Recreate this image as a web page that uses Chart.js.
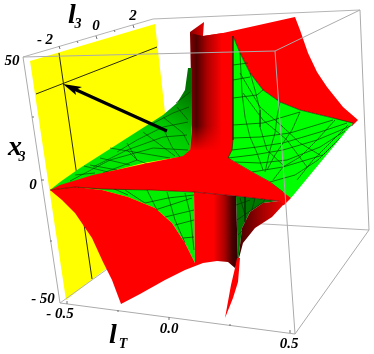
<!DOCTYPE html>
<html><head><meta charset="utf-8">
<style>html,body{margin:0;padding:0;background:#fff}canvas{display:block}</style>
<script src="https://cdn.jsdelivr.net/npm/chart.js@4"></script>
</head><body><canvas id="c" width="374" height="354"></canvas>
<script>
// Outlines (projected plane, picture units)
const backFrame = [[23,57],[153,19],[360,10],null,[60,303],[177,219],[369,230]];
const frontFrame = [[23,57],[275,51],[360,10],[369,230],[295,334],[275,51],null,[23,57],[60,303],[295,334]];
const axisTicks = [[59,46],[60,49],null,[96,36],[97,39],null,[133,25],[134,28],null,[77,41],[78,43],null,[114,30],[115,32],null,
  [41,180],[44,180],null,[32,117],[34,117],null,[50,241],[52,241],null,
  [67,304],[67,301],null,[169,320],[169,317],null,[290,333],[290,330],null,[118,312],[118,310],null,[230,326],[230,324]];
const yellowPlane = [[30,61],[155,24],[165,113],[180,200],[107,268],[66,300]];
const planeLines = [[59,53],[92,279],null,[36,94],[157,47]];
const arrowShaft = [[167,131],[72,88]];
const arrowHead = [[63,84],[82,87],[75,90],[76,95]];
const upperWing = [[233,36],[203,36],[223,33],[250,27],[295,17],[300,30],[308,53],[317,72],[327,87],[343,107],[358,120],[353,125],[333,118],[300,110],[280,102],[263,90],[250,73],[240,53]];
const stemLip = [[190,32],[204,22],[203,36],[190,36]];
const upperStem = [[190,33],[203,36],[223,33],[233,33],[233,160],[190,160],[192,125]];
const stemFade = [[188,126],[234,126],[234,154],[188,154]];
const leftGreen = [[50,190],[60,182],[80,168],[127,138],[163,115],[177,103],[185,90],[188,68],[192,68],[192,125],[190,152],[183,157],[173,158],[143,163],[93,176],[60,186]];
const rightGreen = [[233,36],[240,53],[250,73],[263,90],[280,102],[300,110],[333,118],[353,123],[291,198],[283,195],[270,182],[252,172],[228,158],[232,150],[233,140]];
const lowGreen = [[75,187],[194,192],[195,263],[185,243],[172,223],[155,208],[128,197],[102,190]];
const darkGreen = [[236,196],[279,201],[263,203],[250,212],[242,228],[238,262]];
const centerArm = [[50,190],[60,185],[93,175],[143,164],[173,158],[183,156],[190,150],[228,150],[228,158],[252,172],[270,182],[283,192],[291,198],[284,205],[279,201],[236,196],[194,192],[150,190],[102,189],[75,187]];
const lowerWing = [[50,190],[62,200],[75,213],[92,238],[103,262],[112,280],[121,304],[140,294],[165,280],[185,270],[203,263],[195,263],[185,243],[172,223],[155,208],[128,197],[102,190],[75,187]];
const lowerStem = [[194,192],[236,196],[238,262],[235,268],[228,262],[217,261],[203,263],[195,263]];
const rightCrescent = [[279,201],[284,204],[272,217],[255,228],[243,243],[238,262],[242,228],[250,212],[263,203]];
const spike = [[237,258],[235,268],[231,285],[225,318],[233,298],[238,282],[240,258]];
const leftMesh = [[70,181],[110,160],[153,148],[188,150],null,[93,167],[127,150],[163,137],[187,135],null,[117,152],[137,140],[163,127],[188,122],null,[150,125],[173,113],[189,107],null,[176,103],[190,92],null,
  [103,173],[137,160],null,[127,143],[137,160],null,[127,150],[137,160],[150,165],null,[143,132],[175,156],null,[163,128],[172,147],[180,157],null,[163,117],[183,133],[189,145],null,[177,107],[188,120],null,[84,166],[120,175],null,[110,148],[170,158],null,[75,175],[95,173],null,[90,165],[117,170],null,[100,158],[130,165]];
const rightMesh = [[233,65],[248,63],null,[233,80],[250,77],null,[233,98],[257,95],[263,90],null,[233,125],[263,123],[300,112],null,[233,138],[260,137],[290,133],[333,120],null,[232,150],[257,147],[283,143],[320,132],[347,123],null,[228,158],[253,155],[283,150],[317,140],[353,125],null,[235,162],[260,163],[287,160],[320,147],[345,131],null,[252,172],[283,167],[323,155],[340,138],null,[270,182],[295,175],[318,160],[334,144],null,
  [240,53],[241,73],[242,93],[245,117],[250,137],[257,153],[263,170],null,[250,73],[255,90],[260,110],[260,127],[267,150],[283,165],null,[240,73],[260,107],[283,127],[300,143],[320,155],null,[243,93],[263,120],[287,140],[307,167],null,[280,102],[277,117],[275,133],[270,150],[265,172],null,[300,112],[292,130],[283,143],[275,155],[267,170],null,[335,120],[317,140],[300,157],[283,167],[273,180],null,[348,125],[330,143],[313,160],[297,180]];
const lowMesh = [[112,188],[128,195],null,[125,190],[145,203],null,[147,190],[158,212],null,[167,192],[175,220],[185,243],null,[185,193],[190,213],[194,250],null,[145,203],[168,198],[194,195],null,[155,210],[192,198],null,[165,217],[194,210],null,[175,225],[194,220],null,[183,238],[194,237]];
const darkMesh = [[236,205],[250,200],null,[237,220],[262,203],null,[238,235],[272,202],null,[245,197],[245,222],null,[255,198],[252,210],null,[265,199],[262,204],null,[240,198],[246,218]];
const rightEdge = [[233,36],[240,53],[250,73],[263,90],[280,102],[300,110],[333,118],[353,123],null,[233,36],[233,140],[232,150],[228,158],[252,172],[270,182],[283,192]];
const armEdge = [[50,190],[75,187],[102,189],[150,190],[194,192],[236,196],[279,201],[284,205]];
const tickLabels = ["- 2","0","2","50","0","- 50","- 0.5","0.0","0.5"];
const tickLabelX = [45,96,133,12,33,43,60,169,289];
const tickLabelY = [40,26,16,61,185,299,314,329,344];
const axisNames = ["l","3","x","3","l","T"];
const axisNameX = [72,78,15,22,113,123];
const axisNameY = [16,24,148,157,336,344];

const RED='#ff0000';
function grad(x0,y0,x1,y1,stops){
  return function(c){
    const ch=c.chart, sx=ch.scales.x, sy=ch.scales.y;
    if(!sx||!sy) return stops[0][1];
    const a=sx.getPixelForValue(x0),b=sy.getPixelForValue(y0),d=sx.getPixelForValue(x1),e=sy.getPixelForValue(y1);
    if(![a,b,d,e].every(Number.isFinite)) return stops[0][1];
    const g=ch.ctx.createLinearGradient(a,b,d,e);
    stops.forEach(s=>g.addColorStop(s[0],s[1]));
    return g;
  };
}
const pts=a=>a.map(p=>p?{x:p[0],y:p[1]}:{x:NaN,y:NaN});
const poly=(a,color)=>({data:pts(a.concat([a[0]])),showLine:true,fill:'shape',backgroundColor:color,borderWidth:0,borderColor:'rgba(0,0,0,0)',pointRadius:0,tension:0,spanGaps:false});
const line=(a,color,w)=>({data:pts(a),showLine:true,fill:false,borderColor:color,borderWidth:w,pointRadius:0,tension:0,spanGaps:false});
const painter=[
  poly(yellowPlane,'#ffff00'),
  line(planeLines,'#2a2a00',1),
  line(backFrame,'#b4b4b4',1),
  poly(upperWing,RED),
  poly(stemLip,grad(190,0,204,0,[[0,'#8a0000'],[1,'#e80000']])),
  poly(upperStem,grad(190,0,222,0,[[0,'#800000'],[.2,'#500000'],[.55,'#b00000'],[1,RED]])),
  poly(stemFade,grad(0,126,0,152,[[0,'rgba(255,0,0,0)'],[1,RED]])),
  poly(leftGreen,grad(150,165,190,90,[[0,'#00e800'],[.5,'#00c800'],[1,'#007000']])),
  line(leftMesh,'rgba(0,50,0,.85)',.7),
  poly(rightGreen,'#00ff00'),
  line(rightMesh,'rgba(0,60,0,.9)',.75),
  line(rightEdge,'rgba(20,40,0,.8)',.8),
  poly(lowGreen,'#00f000'),
  line(lowMesh,'rgba(0,60,0,.9)',.75),
  poly(darkGreen,'#007800'),
  line(darkMesh,'rgba(0,40,0,.9)',.7),
  poly(lowerStem,grad(194,0,237,0,[[0,RED],[.45,RED],[.7,'#b00000'],[.9,'#480000'],[1,'#300000']])),
  poly(lowerWing,RED),
  poly(centerArm,RED),
  line(armEdge,'rgba(60,0,0,.7)',.8),
  poly(rightCrescent,grad(238,0,284,0,[[0,'#400000'],[.5,'#a00000'],[1,'#f00000']])),
  poly(spike,RED),
  line(frontFrame,'#ababab',1),
  line(axisTicks,'#707070',1),
  line(arrowShaft,'#000000',3.2),
  poly(arrowHead,'#000000')
];
const textPlugin={id:'labels',afterDraw(ch){
  const c=ch.ctx,sx=ch.scales.x,sy=ch.scales.y;
  c.save();c.fillStyle='#000';c.textAlign='center';c.textBaseline='middle';
  const F='"Liberation Serif"';
  c.font='italic bold 15px '+F;
  tickLabels.forEach((t,i)=>c.fillText(t,sx.getPixelForValue(tickLabelX[i]),sy.getPixelForValue(tickLabelY[i])));
  axisNames.forEach((t,i)=>{c.font='italic bold '+(i%2?14:28)+'px '+F;c.fillText(t,sx.getPixelForValue(axisNameX[i]),sy.getPixelForValue(axisNameY[i]));});
  c.restore();
}};
new Chart(document.getElementById('c'),{
  type:'scatter',
  data:{datasets:painter.slice().reverse()},
  options:{responsive:false,animation:false,clip:false,
    layout:{padding:0},
    plugins:{legend:{display:false},tooltip:{enabled:false},filler:{drawTime:'beforeDatasetDraw',propagate:false}},
    scales:{x:{type:'linear',min:0,max:374,display:false},y:{type:'linear',min:0,max:354,reverse:true,display:false}}
  },
  plugins:[textPlugin]
});
</script></body></html>
